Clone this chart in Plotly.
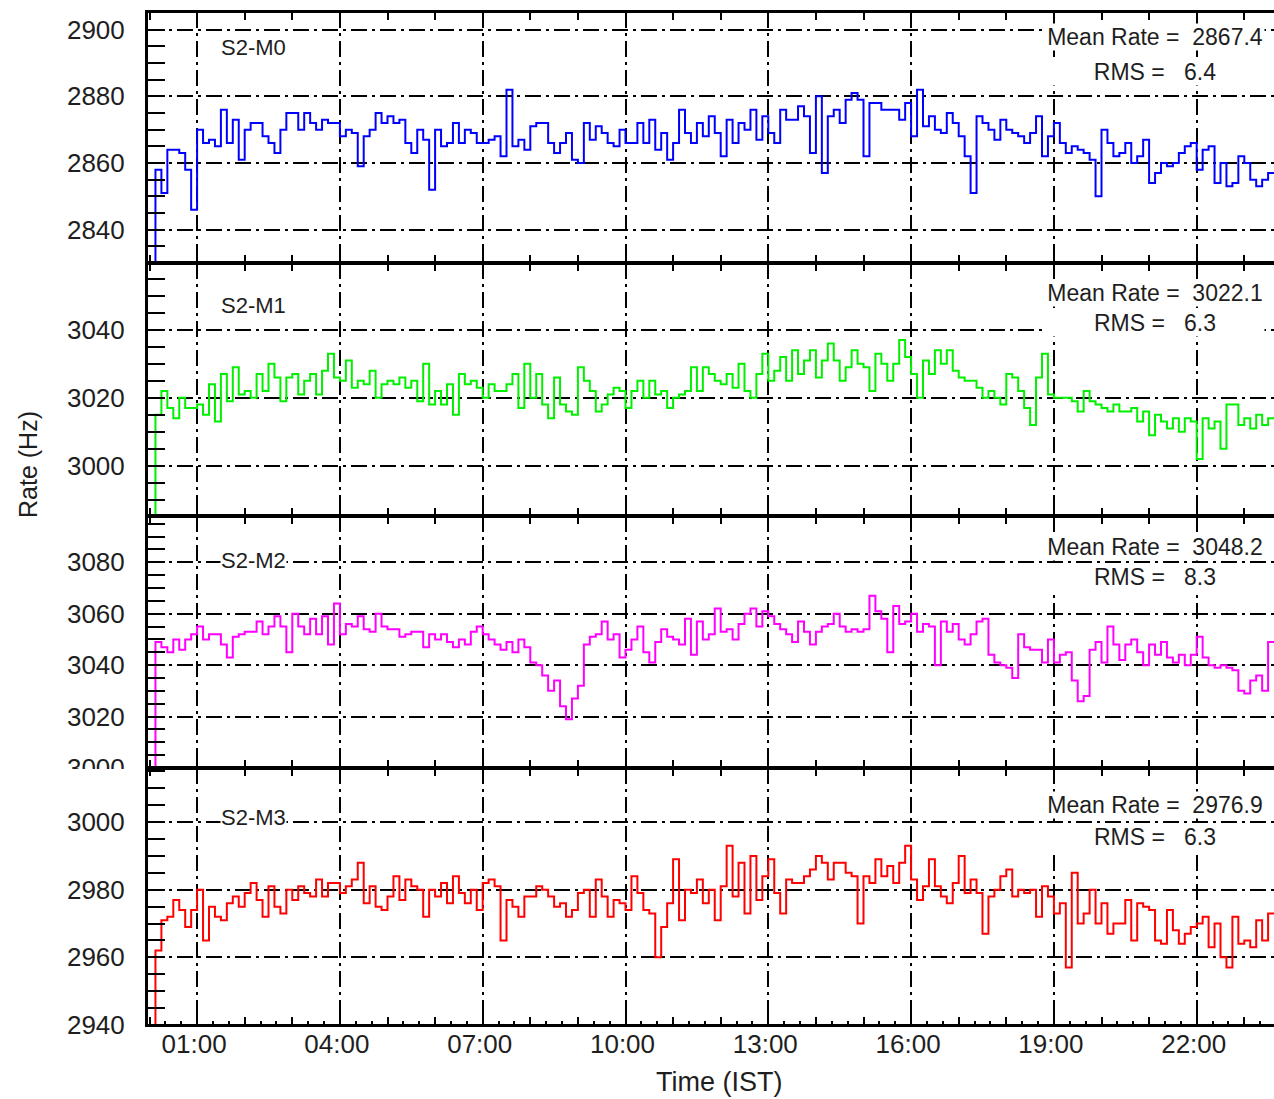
import plotly.graph_objects as go

# ---------------- data ----------------
BIN_HOURS = 0.125  # 7.5-minute bins starting at 00:00
TICK_HOURS = [1, 4, 7, 10, 13, 16, 19, 22]
TICK_LABELS = ["01:00", "04:00", "07:00", "10:00", "13:00", "16:00", "19:00", "22:00"]

NAMES = ["S2-M0", "S2-M1", "S2-M2", "S2-M3"]
MEAN_RATES = ["2867.4", "3022.1", "3048.2", "2976.9"]
RMS_VALUES = ["6.4", "6.3", "8.3", "6.3"]

M0 = [2829, 2858, 2851, 2864, 2864, 2863, 2858, 2846,
      2870, 2866, 2867, 2865, 2876, 2866, 2873, 2861,
      2870, 2872, 2872, 2868, 2866, 2863, 2870, 2875,
      2875, 2870, 2875, 2872, 2870, 2873, 2872, 2872,
      2868, 2870, 2869, 2859, 2868, 2870, 2875, 2872,
      2874, 2872, 2873, 2866, 2863, 2870, 2867, 2852,
      2870, 2865, 2866, 2872, 2866, 2870, 2869, 2866,
      2866, 2867, 2868, 2862, 2882, 2865, 2867, 2864,
      2871, 2872, 2872, 2866, 2863, 2866, 2869, 2861,
      2860, 2872, 2867, 2871, 2869, 2866, 2865, 2870,
      2866, 2866, 2872, 2866, 2873, 2864, 2869, 2861,
      2866, 2876, 2869, 2866, 2872, 2868, 2874, 2869,
      2862, 2873, 2866, 2872, 2870, 2876, 2867, 2874,
      2869, 2866, 2876, 2873, 2873, 2877, 2874, 2863,
      2880, 2857, 2874, 2876, 2872, 2879, 2881, 2879,
      2862, 2878, 2878, 2876, 2876, 2876, 2873, 2878,
      2868, 2882, 2871, 2874, 2870, 2869, 2875, 2872,
      2868, 2862, 2851, 2874, 2872, 2870, 2867, 2873,
      2870, 2869, 2868, 2866, 2869, 2874, 2862, 2868,
      2872, 2866, 2863, 2865, 2864, 2863, 2861, 2850,
      2870, 2866, 2862, 2863, 2866, 2860, 2862, 2867,
      2854, 2857, 2860, 2859, 2860, 2863, 2865, 2866,
      2858, 2864, 2865, 2854, 2860, 2853, 2854, 2862,
      2860, 2855, 2853, 2855, 2857]

M1 = [2984, 3015, 3022, 3017, 3014, 3020, 3017, 3017,
      3018, 3015, 3024, 3013, 3027, 3019, 3029, 3021,
      3022, 3020, 3027, 3022, 3030, 3026, 3019, 3026,
      3027, 3021, 3025, 3027, 3021, 3028, 3033, 3026,
      3025, 3031, 3023, 3025, 3024, 3028, 3020, 3024,
      3025, 3024, 3026, 3023, 3025, 3019, 3030, 3018,
      3022, 3018, 3024, 3015, 3027, 3024, 3025, 3023,
      3020, 3024, 3022, 3022, 3024, 3027, 3017, 3030,
      3020, 3027, 3018, 3014, 3026, 3018, 3016, 3015,
      3029, 3025, 3022, 3016, 3018, 3021, 3023, 3022,
      3017, 3022, 3025, 3020, 3025, 3021, 3022, 3017,
      3020, 3021, 3022, 3029, 3022, 3029, 3027, 3025,
      3024, 3027, 3023, 3030, 3022, 3020, 3027, 3033,
      3025, 3028, 3032, 3025, 3034, 3027, 3031, 3034,
      3026, 3031, 3036, 3031, 3025, 3029, 3034, 3030,
      3029, 3022, 3033, 3030, 3025, 3030, 3037, 3032,
      3027, 3020, 3031, 3027, 3034, 3030, 3034, 3028,
      3026, 3025, 3025, 3023, 3020, 3022, 3020, 3018,
      3027, 3026, 3022, 3017, 3012, 3026, 3033, 3021,
      3020, 3020, 3020, 3019, 3016, 3022, 3019, 3018,
      3017, 3016, 3018, 3016, 3016, 3017, 3013, 3016,
      3009, 3015, 3013, 3011, 3014, 3010, 3014, 3013,
      3002, 3014, 3011, 3013, 3005, 3018, 3018, 3012,
      3014, 3011, 3015, 3012, 3014]

M2 = [2998, 3049, 3047, 3045, 3050, 3046, 3050, 3052,
      3055, 3050, 3052, 3052, 3048, 3043, 3051, 3052,
      3053, 3053, 3057, 3052, 3055, 3059, 3055, 3045,
      3060, 3055, 3052, 3058, 3052, 3059, 3048, 3064,
      3052, 3056, 3055, 3059, 3054, 3053, 3060, 3055,
      3054, 3054, 3051, 3052, 3053, 3053, 3047, 3052,
      3050, 3052, 3049, 3047, 3050, 3048, 3053, 3055,
      3052, 3050, 3048, 3046, 3049, 3045, 3050, 3047,
      3041, 3040, 3036, 3030, 3034, 3024, 3019, 3027,
      3032, 3048, 3051, 3052, 3057, 3050, 3052, 3043,
      3046, 3050, 3055, 3045, 3041, 3049, 3054, 3051,
      3050, 3048, 3058, 3044, 3057, 3050, 3052, 3062,
      3053, 3054, 3050, 3056, 3060, 3062, 3055, 3061,
      3059, 3056, 3054, 3052, 3049, 3057, 3053, 3048,
      3053, 3055, 3056, 3060, 3055, 3053, 3054, 3053,
      3054, 3067, 3061, 3058, 3045, 3063, 3056, 3057,
      3060, 3053, 3056, 3055, 3040, 3057, 3053, 3056,
      3050, 3048, 3052, 3057, 3058, 3044, 3041, 3040,
      3039, 3035, 3052, 3047, 3046, 3046, 3041, 3050,
      3041, 3044, 3045, 3034, 3026, 3028, 3046, 3049,
      3041, 3055, 3048, 3042, 3048, 3050, 3045, 3040,
      3048, 3044, 3049, 3043, 3041, 3044, 3040, 3044,
      3051, 3043, 3040, 3039, 3040, 3039, 3038, 3030,
      3029, 3034, 3036, 3030, 3049]

M3 = [2939, 2962, 2971, 2972, 2977, 2974, 2969, 2974,
      2980, 2965, 2975, 2972, 2971, 2976, 2978, 2975,
      2979, 2982, 2977, 2972, 2981, 2975, 2973, 2980,
      2977, 2981, 2979, 2978, 2983, 2978, 2982, 2982,
      2979, 2981, 2983, 2988, 2976, 2981, 2975, 2974,
      2978, 2984, 2977, 2983, 2981, 2980, 2972, 2980,
      2978, 2982, 2976, 2984, 2979, 2976, 2980, 2974,
      2982, 2983, 2981, 2965, 2977, 2975, 2972, 2978,
      2978, 2981, 2980, 2978, 2975, 2976, 2972, 2974,
      2979, 2980, 2972, 2983, 2978, 2972, 2977, 2976,
      2974, 2984, 2979, 2974, 2973, 2960, 2969, 2976,
      2989, 2971, 2980, 2979, 2983, 2976, 2980, 2971,
      2981, 2993, 2978, 2988, 2973, 2990, 2977, 2984,
      2989, 2979, 2973, 2983, 2982, 2982, 2984, 2986,
      2990, 2988, 2983, 2988, 2988, 2985, 2984, 2970,
      2984, 2982, 2989, 2984, 2987, 2982, 2988, 2993,
      2983, 2977, 2981, 2989, 2981, 2978, 2976, 2982,
      2990, 2979, 2983, 2979, 2967, 2978, 2980, 2984,
      2986, 2978, 2980, 2979, 2980, 2972, 2981, 2978,
      2973, 2976, 2957, 2985, 2970, 2973, 2980, 2970,
      2976, 2967, 2970, 2970, 2977, 2965, 2976, 2975,
      2974, 2965, 2964, 2974, 2968, 2964, 2967, 2969,
      2970, 2972, 2963, 2970, 2960, 2957, 2972, 2964,
      2965, 2963, 2971, 2965, 2973]

SERIES = [M0, M1, M2, M3]
Y_RANGES = [[2830, 2905.3], [2985.2, 3059.7], [3000, 3098], [2940, 3016]]
Y_TICK0 = [2840, 3000, 3000, 2940]

# ---------------- styling / layout ----------------
W, H = 1274, 1099
ML, MR, MT, MB = 148, 0, 12, 74
PW, PH = W - ML - MR, H - MT - MB
COLORS = ["#0000ff", "#00f000", "#ff00ff", "#ff0000"]
FONT = "Liberation Sans, Arial, Helvetica, sans-serif"
TXT = "#1e1e1e"
GRID_DASH = "16px,5px,3px,5px"
X_RANGE = [-0.0315, 23.624]
BOUNDS_PX = [12, 263, 516, 768, 1025]


def py(px):
    return (H - MB - px) / PH


def pxx(px):
    return (px - ML) / PW


fig = go.Figure()
layout = {}
for k in range(4):
    vals = SERIES[k]
    t = [i * BIN_HOURS for i in range(len(vals))] + [len(vals) * BIN_HOURS]
    v = list(vals) + [vals[-1]]
    xn = "x" if k == 0 else f"x{k+1}"
    yn = "y" if k == 0 else f"y{k+1}"
    fig.add_trace(go.Scatter(
        x=t, y=v, mode="lines", xaxis=xn, yaxis=yn,
        line=dict(color=COLORS[k], width=2, shape="hv"),
        showlegend=False, hoverinfo="skip"))

    dom = [py(BOUNDS_PX[k + 1]), py(BOUNDS_PX[k])]
    xa = dict(
        domain=[0, 1], range=X_RANGE, anchor=yn,
        showline=True, linewidth=1.5, linecolor="black", mirror="allticks",
        ticks="inside", ticklen=10, tickwidth=2, tickcolor="black",
        tickmode="array", tickvals=TICK_HOURS, ticktext=TICK_LABELS,
        showticklabels=(k == 3),
        tickfont=dict(size=26, family=FONT, color=TXT),
        ticklabelstandoff=-5, ticklabelshift=-3,
        showgrid=True, gridcolor="black", gridwidth=1.6, griddash=GRID_DASH,
        zeroline=False,
        minor=dict(tickmode="linear", tick0=0, dtick=1, ticks="inside",
                   ticklen=8, tickwidth=2, tickcolor="black", showgrid=False),
    )
    ya = dict(
        domain=dom, range=Y_RANGES[k], anchor=xn,
        showline=True, linewidth=3, linecolor="black", mirror=False,
        ticks="inside", ticklen=17, tickwidth=2, tickcolor="black",
        tickmode="linear", tick0=Y_TICK0[k], dtick=20,
        tickfont=dict(size=26, family=FONT, color=TXT),
        ticklabelstandoff=15,
        showgrid=True, gridcolor="black", gridwidth=1.6, griddash=GRID_DASH,
        zeroline=False,
        minor=dict(tickmode="linear", tick0=Y_TICK0[k], dtick=5, ticks="inside",
                   ticklen=17, tickwidth=2, tickcolor="black", showgrid=False),
    )
    layout["xaxis" if k == 0 else f"xaxis{k+1}"] = xa
    layout["yaxis" if k == 0 else f"yaxis{k+1}"] = ya

# fine 20-minute ticks along the bottom axis
fig.add_trace(go.Scatter(x=[X_RANGE[0]], y=[Y_RANGES[3][0] - 10], mode="markers",
                         xaxis="x5", yaxis="y4", showlegend=False,
                         marker=dict(size=1, color="rgba(0,0,0,0)"), hoverinfo="skip"))
layout["xaxis5"] = dict(
    overlaying="x4", anchor="y4", side="bottom", range=X_RANGE,
    showline=False, showgrid=False, zeroline=False, showticklabels=False,
    ticks="inside", ticklen=4, tickwidth=1.5, tickcolor="black",
    tickmode="array", tickvals=[i / 3 for i in range(0, 71)],
)

annotations = []
LABEL_Y = [48, 305, 560, 817]
MEAN_Y = [37, 293, 547, 805]
RMS_Y = [72, 323, 577, 837]
for k in range(4):
    annotations.append(dict(
        xref="paper", yref="paper", x=pxx(220), y=py(LABEL_Y[k]),
        xanchor="left", yanchor="middle", text=NAMES[k], showarrow=False,
        font=dict(size=22, family=FONT, color=TXT), bgcolor="white", borderpad=0))
    annotations.append(dict(
        xref="paper", yref="paper", x=pxx(1155), y=py(MEAN_Y[k]),
        xanchor="center", yanchor="middle", width=218,
        text="Mean Rate =\u00a0\u00a0" + MEAN_RATES[k], showarrow=False,
        font=dict(size=23, family=FONT, color=TXT), bgcolor="white", borderpad=0))
    annotations.append(dict(
        xref="paper", yref="paper", x=pxx(1155), y=py(RMS_Y[k]),
        xanchor="center", yanchor="middle", width=218,
        text="RMS =\u00a0\u00a0\u00a0" + RMS_VALUES[k], showarrow=False,
        font=dict(size=23, family=FONT, color=TXT), bgcolor="white", borderpad=0))

annotations.append(dict(
    xref="paper", yref="paper", x=pxx(28), y=py(465), textangle=-90,
    xanchor="center", yanchor="middle", text="Rate (Hz)", showarrow=False,
    font=dict(size=25, family=FONT, color=TXT)))
annotations.append(dict(
    xref="paper", yref="paper", x=pxx(719), y=py(1082),
    xanchor="center", yanchor="middle", text="Time (IST)", showarrow=False,
    font=dict(size=27, family=FONT, color=TXT)))

# the clipped "3000" label of the third panel, plus heavier outer frame edges
shapes = [
    dict(type="rect", xref="paper", yref="paper", layer="above",
         x0=pxx(40), x1=pxx(141), y0=py(790), y1=py(769),
         fillcolor="white", line=dict(width=0)),
    dict(type="line", xref="paper", yref="paper", layer="above",
         x0=pxx(146.5), x1=1, y0=py(11.5), y1=py(11.5),
         line=dict(color="black", width=3)),
    dict(type="line", xref="paper", yref="paper", layer="above",
         x0=pxx(146.5), x1=1, y0=py(1025.5), y1=py(1025.5),
         line=dict(color="black", width=3)),
]

fig.update_layout(
    width=W, height=H, autosize=False,
    margin=dict(l=ML, r=MR, t=MT, b=MB, pad=0),
    paper_bgcolor="white", plot_bgcolor="white",
    font=dict(family=FONT, color=TXT),
    annotations=annotations, shapes=shapes,
    showlegend=False,
    **layout,
)

fig.write_html("out.html", config={"displayModeBar": False})
